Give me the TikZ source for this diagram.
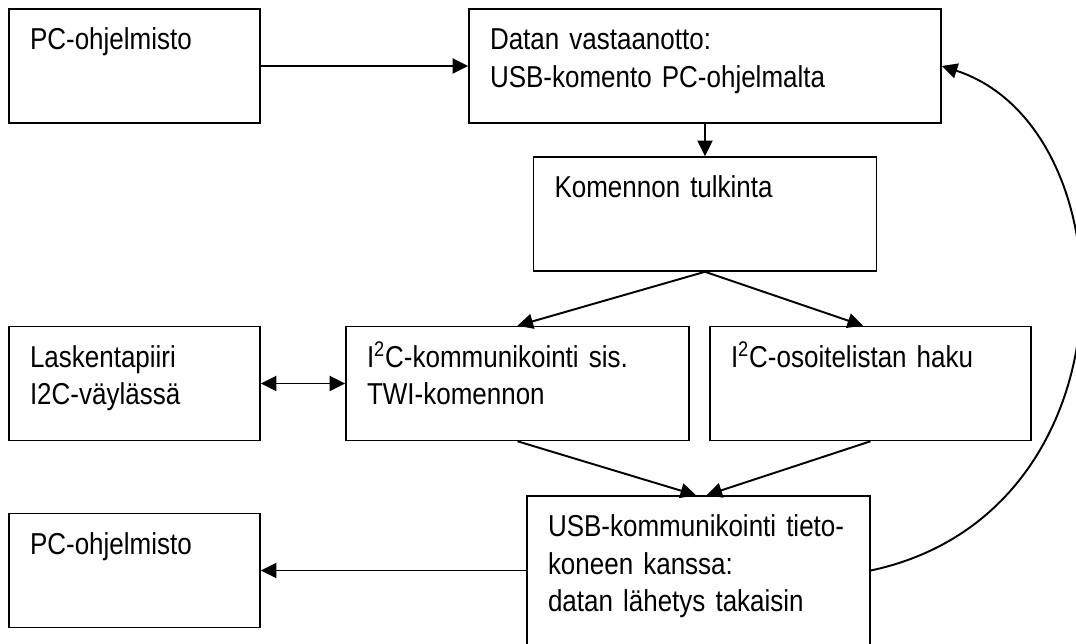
\documentclass[tikz,border=0pt]{standalone}
\usepackage{fontspec}
\setmainfont{Liberation Sans}[FakeStretch=0.86]
\usetikzlibrary{arrows.meta, calc}

\begin{document}
\begin{tikzpicture}[
  every node/.style={font=\fontsize{17.2}{21.2}\selectfont},
  blok/.style={rectangle, draw=black, line width=0.9pt, inner xsep=0.42cm, inner ysep=0pt, align=left, text height=0.82cm, text depth=1.46cm},
  kapea/.style={blok, text width=4.18cm},
  keski/.style={blok, text width=6.02cm},
  pijl/.style={-{Triangle[length=0.31cm, width=0.3cm]}, line width=1.1pt},
  kaksi/.style={{Triangle[length=0.31cm, width=0.3cm]}-{Triangle[length=0.31cm, width=0.3cm]}, line width=1.1pt},
]
\useasboundingbox (0,0) rectangle (21.52,12.88);
\clip (0,0) rectangle (21.52,12.88);

% Top row
\node[kapea] (pc1) at (2.69, 11.56) {PC-ohjelmisto};
\node[blok, text width=8.60cm] (vastaanotto) at (14.10, 11.56) {Datan vastaanotto:\\USB-komento PC-ohjelmalta};
\node[keski] (tulkinta) at (14.10, 8.60) {Komennon tulkinta};

\draw[pijl] (pc1.east) -- (vastaanotto.west);
\draw[pijl] (vastaanotto.south) -- (tulkinta.north);

% Middle row
\node[kapea] (laskenta) at (2.69, 5.21) {Laskentapiiri\\I2C-väylässä};
\node[keski] (twi) at (10.35, 5.21) {I\textsuperscript{2}C-kommunikointi sis.\\TWI-komennon};
\node[blok, text width=5.58cm] (osoite) at (17.41, 5.21) {I\textsuperscript{2}C-osoitelistan haku};

\draw[pijl] (tulkinta.south) -- (twi.north);
\draw[pijl] (tulkinta.south) -- ([xshift=-0.15cm]osoite.north);
\draw[kaksi] (laskenta.east) -- (twi.west);

% Bottom row
\node[keski, text depth=2.30cm] (usb) at (13.97, 1.40) {USB-kommunikointi tieto-\\koneen kanssa:\\datan lähetys takaisin};
\node[kapea] (pc2) at (2.69, 1.47) {PC-ohjelmisto};

\draw[pijl] (twi.south) -- ([xshift=-0.05cm]usb.north);
\draw[pijl] (osoite.south) -- ([xshift=0.16cm]usb.north);
\draw[pijl] (usb.west |- pc2.east) -- (pc2.east);

% Paluu alkuun
\draw[pijl] (usb.east |- pc2.east) .. controls +(12:5.5) and +(-18:4.0) .. (vastaanotto.east);

\end{tikzpicture}
\end{document}
